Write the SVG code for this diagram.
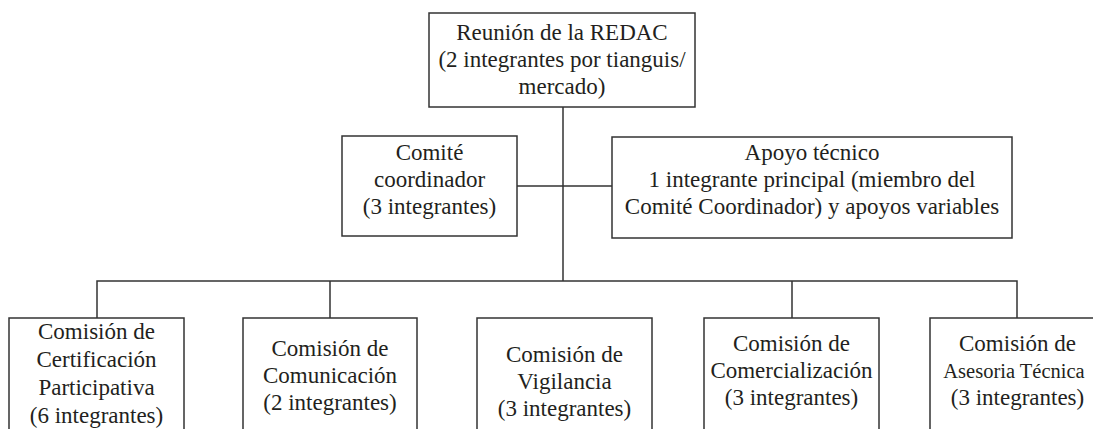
<svg xmlns="http://www.w3.org/2000/svg" width="1093" height="429" viewBox="0 0 1093 429">
<style>
.box{fill:#fff;stroke:#333;stroke-width:1.5}
.ln{fill:none;stroke:#333;stroke-width:1.5}
text{font-family:"Liberation Serif","Times New Roman",serif;font-size:23px;fill:#231f20;text-anchor:middle}
</style>
<rect width="1093" height="429" fill="#fff"/>
<g id="connectors">
<path class="ln" d="M563 107V281M517 186H612M97 318V281H1017V318M330 281V318M792 281V318"/>
</g>
<g id="reunion">
<rect class="box" x="429" y="13" width="266" height="94"/>
<text x="562" y="40">Reunión de la REDAC</text>
<text x="562" y="67">(2 integrantes por tianguis/</text>
<text x="562" y="94">mercado)</text>
</g>
<g id="comite">
<rect class="box" x="342" y="136" width="175" height="100"/>
<text x="429.5" y="160">Comité</text>
<text x="429.5" y="187">coordinador</text>
<text x="429.5" y="214">(3 integrantes)</text>
</g>
<g id="apoyo">
<rect class="box" x="612" y="137" width="400" height="101"/>
<text x="812" y="160">Apoyo técnico</text>
<text x="812" y="187">1 integrante principal (miembro del</text>
<text x="812" y="214">Comité Coordinador) y apoyos variables</text>
</g>
<g id="certificacion">
<rect class="box" x="9" y="318" width="175" height="130"/>
<text x="96.5" y="339">Comisión de</text>
<text x="96.5" y="367">Certificación</text>
<text x="96.5" y="395">Participativa</text>
<text x="96.5" y="423">(6 integrantes)</text>
</g>
<g id="comunicacion">
<rect class="box" x="243" y="318" width="174" height="130"/>
<text x="330" y="356">Comisión de</text>
<text x="330" y="383">Comunicación</text>
<text x="330" y="410">(2 integrantes)</text>
</g>
<g id="vigilancia">
<rect class="box" x="477" y="318" width="175" height="130"/>
<text x="564.5" y="362">Comisión de</text>
<text x="564.5" y="389">Vigilancia</text>
<text x="564.5" y="416">(3 integrantes)</text>
</g>
<g id="comercializacion">
<rect class="box" x="704" y="318" width="175" height="130"/>
<text x="791.5" y="351">Comisión de</text>
<text x="791.5" y="378">Comercialización</text>
<text x="791.5" y="405">(3 integrantes)</text>
</g>
<g id="asesoria">
<rect class="box" x="930" y="318" width="175" height="130"/>
<text x="1017.5" y="351">Comisión de</text>
<text x="1014" y="378" style="font-size:20.5px">Asesoria Técnica</text>
<text x="1017.5" y="405">(3 integrantes)</text>
</g>
</svg>
